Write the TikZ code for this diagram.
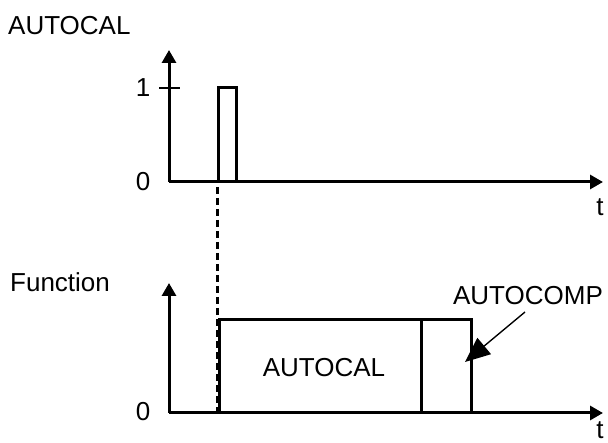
\documentclass[tikz,border=0pt]{standalone}
\usepackage{fontspec}
\setmainfont{Liberation Sans}
\usetikzlibrary{arrows.meta}
\begin{document}
\begin{tikzpicture}[x=1pt,y=-1pt,
  axis/.style={line width=3pt,-{Triangle[length=13pt,width=14pt]}},
  sig/.style={line width=3pt},
  lbl/.style={inner sep=0pt,font=\fontsize{26}{30}\selectfont},
  dashline/.style={line width=3pt,dash pattern=on 7pt off 4pt}]
\useasboundingbox (0,0) rectangle (608,443);
% ---- top plot
\coordinate (o1) at (169,182);
\coordinate (y1) at (169,50);
\coordinate (x1) at (603,182);
\draw[axis] (o1) -- (y1);
\draw[axis] (o1) -- (x1);
\coordinate (tk1) at (159,88);
\coordinate (tk2) at (180,88);
\draw[line width=2.2pt] (tk1) -- (tk2);
\coordinate (p0) at (218,182);
\coordinate (p1) at (218,88);
\coordinate (p2) at (236,88);
\coordinate (p3) at (236,182);
\draw[sig] (o1) -- (p0) -- (p1) -- (p2) -- (p3);
\node[lbl,anchor=west] (tA) at (8,26) {AUTOCAL};
\node[lbl] (one) at (143,88) {1};
\node[lbl] (zero1) at (143,182) {0};
\node[lbl] (t1) at (600,207) {t};
% ---- bottom plot
\coordinate (o2) at (169,413);
\coordinate (y2) at (169,283);
\coordinate (x2) at (603,413);
\draw[axis] (o2) -- (y2);
\draw[axis] (o2) -- (x2);
\coordinate (b0) at (219,413);
\coordinate (b1) at (219,320);
\coordinate (b2) at (471,320);
\coordinate (b3) at (471,413);
\coordinate (d1) at (421,320);
\coordinate (d2) at (421,413);
\draw[sig] (b0) -- (b1) -- (b2) -- (b3);
\draw[sig] (d1) -- (d2);
\coordinate (dtop) at (217,187);
\coordinate (dbot) at (217,413);
\draw[dashline] (dtop) -- (dbot);
\node[lbl,anchor=west] (tF) at (10,282) {Function};
\node[lbl] (zero2) at (143,412) {0};
\node[lbl] (t2) at (600,430) {t};
\node[lbl] (ac) at (324,368) {AUTOCAL};
\node[lbl] (acomp) at (528,296) {AUTOCOMP};
\coordinate (tip) at (465,362);
\draw[line width=1.4pt,-{Triangle[length=25pt,width=21pt]}] (525,312) -- (tip);
\end{tikzpicture}
\end{document}
